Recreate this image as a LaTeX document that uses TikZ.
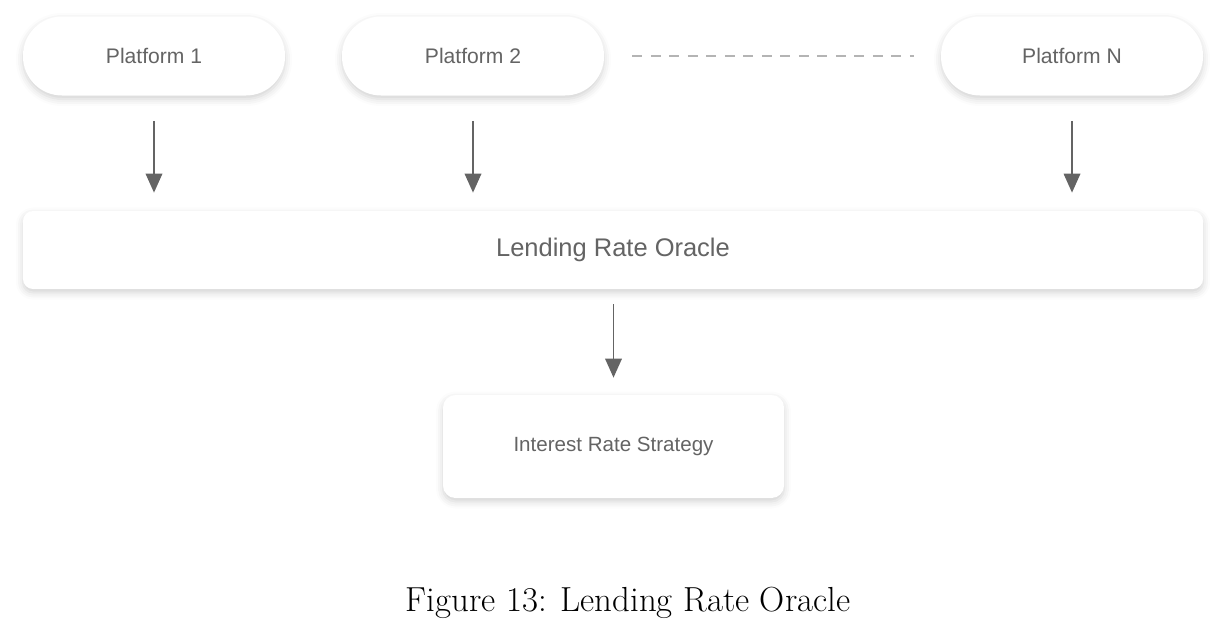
\documentclass[tikz,border=0pt]{standalone}
\usepackage{fontspec}
\setsansfont{Liberation Sans}
\usepackage{tikz}
\usetikzlibrary{positioning,calc,arrows.meta,shadows.blur}
\definecolor{mygray}{RGB}{100,100,100}
\definecolor{dashgray}{RGB}{180,180,180}

\begin{document}
\begin{tikzpicture}[platform/.style={rectangle,rounded corners=0.78cm,fill=white,minimum width=5.24cm,minimum height=1.58cm,
blur shadow={shadow xshift=0pt,shadow yshift=-2pt,shadow blur radius=4pt,shadow opacity=18},text=mygray,font=\sffamily\fontsize{12}{14}\selectfont},
panel/.style={rectangle,rounded corners=0.2cm,fill=white,
blur shadow={shadow xshift=0pt,shadow yshift=-2pt,shadow blur radius=4pt,shadow opacity=18},text=mygray,font=\sffamily},
edge/.style = {-{Triangle[length=0.38cm,width=0.33cm]},color=mygray,line width=1.1pt}]
\useasboundingbox (0,0) rectangle (24.52,-12.44);

% nodes
\node[platform](p1) at (3.08,-1.12){Platform 1};
\node[platform](p2) at (9.46,-1.12){Platform 2};
\node[platform](pn) at (21.44,-1.12){Platform N};

\node[panel,minimum width=23.6cm,minimum height=1.56cm,font=\sffamily\fontsize{14.5}{16}\selectfont](oracle) at (12.26,-5.0){Lending Rate Oracle};
\node[panel,minimum width=6.82cm,minimum height=2.06cm,rounded corners=0.25cm,font=\sffamily\fontsize{11.7}{13}\selectfont](strategy) at (12.27,-8.93){Interest Rate Strategy};

% caption
\node (cap) at (12.56,-12.06){\fontsize{19.8}{24}\selectfont Figure 13: Lending Rate Oracle};

% dots between platforms
\draw[dashgray,line width=1.6pt,dash pattern=on 0.2cm off 0.17cm,shorten <=0.56cm,shorten >=0.54cm] (p2) -- (pn);

\draw[edge,shorten <=0.5cm,shorten >=0.36cm] (p1) -- (p1 |- oracle.north);
\draw[edge,shorten <=0.5cm,shorten >=0.36cm] (p2) -- (p2 |- oracle.north);
\draw[edge,shorten <=0.5cm,shorten >=0.36cm] (pn) -- (pn |- oracle.north);
\draw[edge,shorten <=0.3cm,shorten >=0.34cm] (oracle.south -| strategy) -- (strategy);
\end{tikzpicture}
\end{document}
